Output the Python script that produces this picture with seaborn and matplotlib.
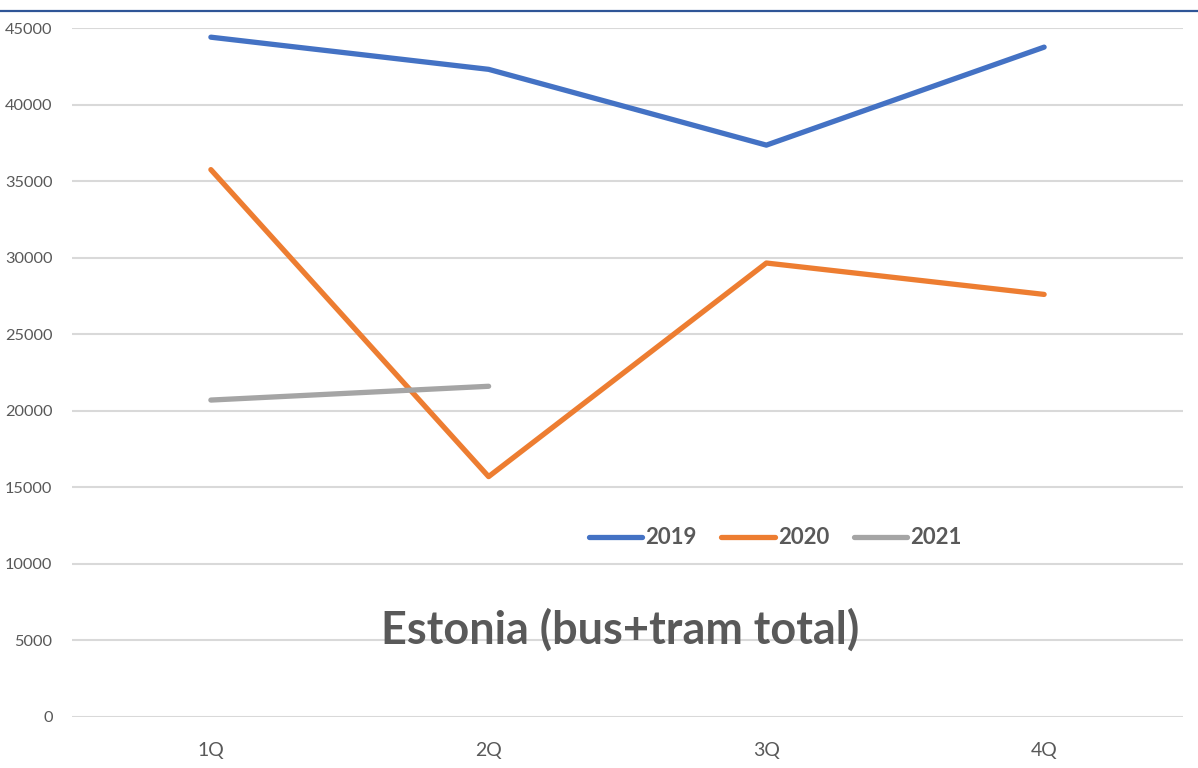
import matplotlib
matplotlib.use("Agg")
import matplotlib.pyplot as plt
from matplotlib.lines import Line2D
import seaborn as sns
import pandas as pd

quarters = ["1Q", "2Q", "3Q", "4Q"]
values_2019 = [44400, 42300, 37350, 43750]
values_2020 = [35750, 15700, 29650, 27600]
values_2021 = [20700, 21600]
years = ["2019", "2020", "2021"]
colors = ["#4472C4", "#ED7D31", "#A5A5A5"]
y_ticks = [0, 5000, 10000, 15000, 20000, 25000, 30000, 35000, 40000, 45000]

rows = []
for year, vals in zip(years, [values_2019, values_2020, values_2021]):
    for q, v in zip(quarters, vals):
        rows.append({"quarter": q, "value": v, "year": year})
df = pd.DataFrame(rows)

sns.set_theme(style="white")
plt.rcParams["font.family"] = ["Lato", "DejaVu Sans"]
text_color = "#595959"

fig = plt.figure(figsize=(11.98, 7.68), dpi=100)
ax = fig.add_axes([72 / 1198, 1 - 717 / 768, 1111 / 1198, (717 - 28) / 768])

sns.lineplot(data=df, x="quarter", y="value", hue="year", hue_order=years,
             palette=colors, linewidth=3.8, ax=ax, legend=False,
             solid_capstyle="round", sort=False)

ax.set_xlim(-0.5, 3.5)
ax.set_ylim(0, 45000)
ax.set_yticks(y_ticks)
ax.set_yticklabels([str(t) for t in y_ticks])
ax.set_xticks(range(len(quarters)))
ax.set_xticklabels(quarters)
ax.yaxis.grid(True, color="#D9D9D9", linewidth=1.5)
ax.xaxis.grid(False)
ax.set_axisbelow(True)
for s in ax.spines.values():
    s.set_visible(False)
ax.tick_params(axis="y", length=0, colors=text_color, labelsize=11.8, pad=14)
ax.tick_params(axis="x", length=0, colors=text_color, labelsize=14, pad=18)
ax.set_xlabel("")
ax.set_ylabel("")

handles = [Line2D([0], [0], color=c, linewidth=3.8, solid_capstyle="round") for c in colors]
leg = ax.legend(handles, years, loc="center", bbox_to_anchor=(0.633, 0.26), ncol=3,
                frameon=False, handlelength=2.4, handletextpad=0.15, columnspacing=1.1,
                prop={"weight": "bold", "size": 16})
for t in leg.get_texts():
    t.set_color(text_color)

ax.text(0.493, 0.127, "Estonia (bus+tram total)", transform=ax.transAxes,
        ha="center", va="center", fontsize=32.4, fontweight="bold", color=text_color)

fig.add_artist(Line2D([0, 1], [1 - 11 / 768, 1 - 11 / 768], transform=fig.transFigure,
                      color="#2F5597", linewidth=1.6))

fig.savefig("out.png", dpi=100, facecolor="white")
